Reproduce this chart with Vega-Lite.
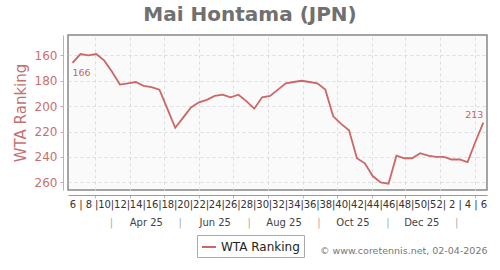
{
  "$schema": "https://vega.github.io/schema/vega-lite/v6.json",
  "autosize": "none",
  "width": 419,
  "height": 155,
  "padding": {"left": 68, "top": 35, "right": 13, "bottom": 80},
  "background": "white",
  "title": {"text": "Mai Hontama (JPN)", "font": "DejaVu Sans", "fontSize": 20, "fontWeight": "bold", "color": "#707070", "anchor": "middle", "frame": "bounds", "offset": 10},
  "config": {
    "font": "DejaVu Sans",
    "view": {"fill": "#fafafa", "stroke": "#888", "strokeWidth": 1.5}
  },
  "data": {"values": [
    {"date": "2025-02-09", "rank": 166},
    {"date": "2025-02-16", "rank": 159},
    {"date": "2025-02-23", "rank": 160},
    {"date": "2025-03-02", "rank": 159},
    {"date": "2025-03-09", "rank": 164},
    {"date": "2025-03-16", "rank": 173},
    {"date": "2025-03-23", "rank": 183},
    {"date": "2025-03-30", "rank": 182},
    {"date": "2025-04-06", "rank": 181},
    {"date": "2025-04-13", "rank": 184},
    {"date": "2025-04-20", "rank": 185},
    {"date": "2025-04-27", "rank": 187},
    {"date": "2025-05-04", "rank": 202},
    {"date": "2025-05-11", "rank": 217},
    {"date": "2025-05-18", "rank": 209},
    {"date": "2025-05-25", "rank": 201},
    {"date": "2025-06-01", "rank": 197},
    {"date": "2025-06-08", "rank": 195},
    {"date": "2025-06-15", "rank": 192},
    {"date": "2025-06-22", "rank": 191},
    {"date": "2025-06-29", "rank": 193},
    {"date": "2025-07-06", "rank": 191},
    {"date": "2025-07-13", "rank": 196},
    {"date": "2025-07-20", "rank": 202},
    {"date": "2025-07-27", "rank": 193},
    {"date": "2025-08-03", "rank": 192},
    {"date": "2025-08-10", "rank": 187},
    {"date": "2025-08-17", "rank": 182},
    {"date": "2025-08-24", "rank": 181},
    {"date": "2025-08-31", "rank": 180},
    {"date": "2025-09-07", "rank": 181},
    {"date": "2025-09-14", "rank": 182},
    {"date": "2025-09-21", "rank": 187},
    {"date": "2025-09-28", "rank": 208},
    {"date": "2025-10-05", "rank": 214},
    {"date": "2025-10-12", "rank": 219},
    {"date": "2025-10-19", "rank": 241},
    {"date": "2025-10-26", "rank": 245},
    {"date": "2025-11-02", "rank": 255},
    {"date": "2025-11-09", "rank": 260},
    {"date": "2025-11-16", "rank": 261},
    {"date": "2025-11-23", "rank": 239},
    {"date": "2025-11-30", "rank": 241},
    {"date": "2025-12-07", "rank": 241},
    {"date": "2025-12-14", "rank": 237},
    {"date": "2025-12-21", "rank": 239},
    {"date": "2025-12-28", "rank": 240},
    {"date": "2026-01-04", "rank": 240},
    {"date": "2026-01-11", "rank": 242},
    {"date": "2026-01-18", "rank": 242},
    {"date": "2026-01-25", "rank": 244},
    {"date": "2026-02-01", "rank": 228},
    {"date": "2026-02-08", "rank": 213}
  ]},
  "layer": [
    {
      "mark": {"type": "line", "strokeWidth": 1.8, "interpolate": "linear"},
      "encoding": {
        "x": {"field": "date", "type": "temporal",
          "scale": {"type": "utc", "nice": false, "domain": [{"year": 2025, "month": 2, "date": 5, "utc": true}, {"year": 2026, "month": 2, "date": 11, "hours": 6, "utc": true}]},
          "axis": {"orient": "bottom", "title": null, "labels": false, "offset": 5, "domain": true, "domainColor": "#999", "domainWidth": 1,
            "ticks": true, "tickSize": 3, "tickColor": "#bbb",
            "tickCount": {"interval": "month", "step": 1},
            "grid": true, "gridColor": "#ddd", "gridDash": [3, 3]}},
        "y": {"field": "rank", "type": "quantitative",
          "scale": {"domain": [144, 266], "reverse": true, "nice": false, "zero": false},
          "axis": {"orient": "left", "title": "WTA Ranking", "titleColor": "#c87070", "titleFontSize": 15, "titleFontWeight": "normal", "titlePadding": 6,
            "offset": 5, "values": [160, 180, 200, 220, 240, 260], "labelOverlap": false,
            "domain": true, "domainColor": "#dba5a5", "ticks": true, "tickColor": "#dba5a5", "tickSize": 3,
            "labelColor": "#c87070", "labelFontSize": 12, "labelPadding": 3,
            "grid": true, "gridColor": "#ddd", "gridDash": [3, 3]}},
        "color": {"datum": "WTA Ranking", "type": "nominal", "scale": {"range": ["#cd6666"]},
          "legend": {"orient": "none", "legendX": 129, "legendY": 200, "title": null, "strokeColor": "#aaa", "padding": 4,
            "labelFontSize": 12, "labelColor": "#222", "symbolStrokeWidth": 2, "symbolSize": 196, "fillColor": "#fff"}}
      }
    },
    {
      "transform": [{"filter": {"field": "date", "equal": {"year": 2025, "month": 2, "date": 9, "utc": true}}}],
      "mark": {"type": "text", "align": "left", "baseline": "top", "dy": 5, "fontSize": 9.5, "color": "#c86464"},
      "encoding": {
        "x": {"field": "date", "type": "temporal",
          "scale": {"type": "utc", "nice": false, "domain": [{"year": 2025, "month": 2, "date": 5, "utc": true}, {"year": 2026, "month": 2, "date": 11, "hours": 6, "utc": true}]},
          "axis": {"orient": "bottom", "title": null, "offset": 5, "domain": false, "ticks": false, "grid": false,
            "tickCount": {"interval": "week", "step": 1},
            "labelExpr": "toNumber(utcFormat(datum.value, '%V')) % 2 == 0 ? utcFormat(datum.value, '%-V') : '|'",
            "labelFontSize": 10, "labelColor": "#333", "labelPadding": 4,
            "labelOverlap": false, "labelFlush": false, "labelBound": false}},
        "y": {"field": "rank", "type": "quantitative", "scale": {"domain": [144, 266], "reverse": true, "nice": false, "zero": false}, "axis": null},
        "text": {"field": "rank", "type": "quantitative"}
      }
    },
    {
      "transform": [{"filter": {"field": "date", "equal": {"year": 2026, "month": 2, "date": 8, "utc": true}}}],
      "mark": {"type": "text", "align": "right", "baseline": "bottom", "dy": -3, "fontSize": 9.5, "color": "#c86464"},
      "encoding": {
        "x": {"field": "date", "type": "temporal",
          "scale": {"type": "utc", "nice": false, "domain": [{"year": 2025, "month": 2, "date": 5, "utc": true}, {"year": 2026, "month": 2, "date": 11, "hours": 6, "utc": true}]},
          "axis": {"orient": "bottom", "offset": 5, "domain": false, "ticks": false, "grid": false,
            "values": [
              {"year": 2025, "month": 3, "date": 15, "utc": true},
              {"year": 2025, "month": 4, "date": 15, "utc": true},
              {"year": 2025, "month": 5, "date": 15, "utc": true},
              {"year": 2025, "month": 6, "date": 15, "utc": true},
              {"year": 2025, "month": 7, "date": 15, "utc": true},
              {"year": 2025, "month": 8, "date": 15, "utc": true},
              {"year": 2025, "month": 9, "date": 15, "utc": true},
              {"year": 2025, "month": 10, "date": 15, "utc": true},
              {"year": 2025, "month": 11, "date": 15, "utc": true},
              {"year": 2025, "month": 12, "date": 15, "utc": true},
              {"year": 2026, "month": 1, "date": 15, "utc": true}
            ],
            "labelExpr": "toNumber(utcFormat(datum.value, '%m')) % 2 == 1 ? '|' : utcFormat(datum.value, '%b %y')",
            "labelColor": {"condition": {"test": "toNumber(utcFormat(datum.value, '%m')) % 2 == 1", "value": "#aaa"}, "value": "#444"},
            "labelFontSize": 10, "labelPadding": 22,
            "labelOverlap": false, "labelFlush": false, "labelBound": false,
            "title": "© www.coretennis.net, 02-04-2026", "titleAnchor": "end", "titleFontSize": 9.5, "titleFontWeight": "normal", "titleColor": "#777", "titlePadding": 18}},
        "y": {"field": "rank", "type": "quantitative", "scale": {"domain": [144, 266], "reverse": true, "nice": false, "zero": false}, "axis": null},
        "text": {"field": "rank", "type": "quantitative"}
      }
    }
  ],
  "resolve": {"axis": {"x": "independent", "y": "independent"}}
}
